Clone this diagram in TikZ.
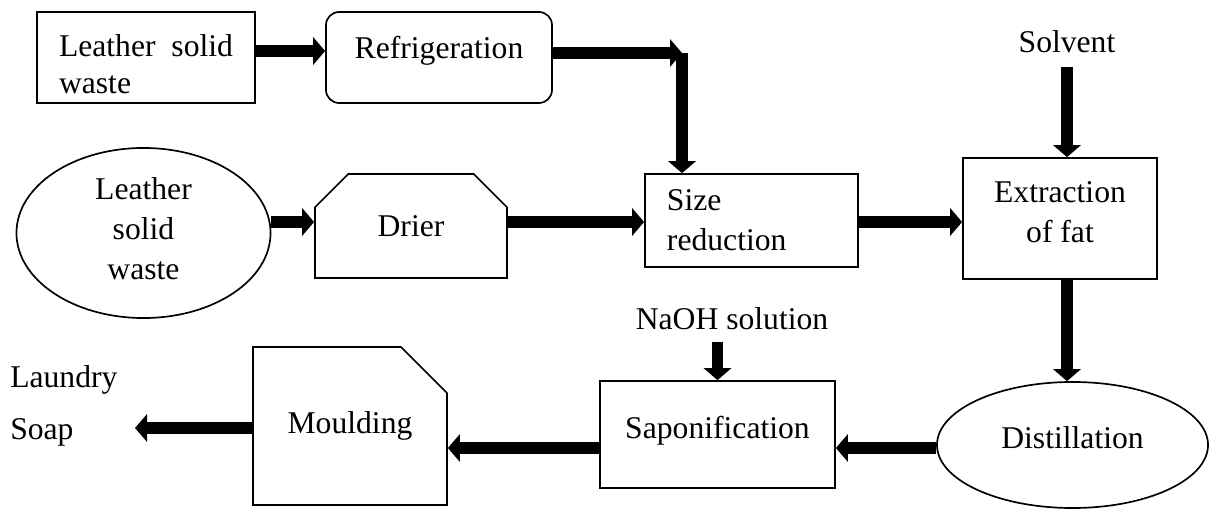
\documentclass[tikz,border=0pt]{standalone}
\usepackage{fontspec}
\setmainfont{Liberation Serif}
\usepackage{tikz}
\usetikzlibrary{shapes.geometric, shapes.misc, arrows.meta}

\tikzset{
  proc/.style={draw, line width=1.2pt, font=\fontsize{22.5}{28.5}\selectfont},
  lbl/.style={font=\fontsize{22.5}{28.5}\selectfont},
  flow/.style={line width=8pt, -{Triangle[length=0.3cm, width=0.68cm]}}
}

\begin{document}
\begin{tikzpicture}[x=0.025cm, y=-0.025cm]
  \useasboundingbox (0,0) rectangle (1210,510);
  % rows the thick arrows run along
  \coordinate (toprow) at (0,51);
  \coordinate (bend) at (682,53);
  \coordinate (midrow) at (0,222);
  \coordinate (lowrow) at (0,448);
  \coordinate (soap) at (135,428);
  % top row: waste box and refrigeration
  \node[proc, rectangle, minimum width=5.45cm, minimum height=2.275cm, align=left,
        font=\fontsize{22.5}{26.3}\selectfont] (waste) at (146,57.5) {\rule{0pt}{24.5pt}Leather\ \ solid\\waste};
  \node[proc, rounded corners=0.33cm, minimum width=5.65cm, minimum height=2.275cm, text depth=15pt] (fridge) at (439,57.5) {Refrigeration};
  % middle row
  \node[proc, ellipse, inner sep=0pt, minimum width=6.35cm, minimum height=4.25cm, align=center] (leaf) at (143.5,233) {Leather\\solid\\waste\rule[-6pt]{0pt}{6pt}};
  \node[proc, chamfered rectangle, chamfered rectangle corners={north west, north east},
        chamfered rectangle xsep=0.45cm, chamfered rectangle ysep=0.45cm,
        minimum width=4.8cm, minimum height=2.6cm] (drier) at (411,226) {Drier};
  \node[proc, rectangle, minimum height=2.325cm, text width=4.225cm, inner xsep=0.55cm, align=left] (size) at (751.5,220.5) {Size\\reduction};
  \node[proc, rectangle, minimum width=4.85cm, minimum height=3.025cm, align=center] (extract) at (1060,218.5) {Extraction\\of fat\rule[-9pt]{0pt}{9pt}};
  \node[lbl] (solvent) at (1067,42) {Solvent};
  % bottom row
  \node[proc, ellipse, inner sep=0pt, minimum width=6.775cm, minimum height=3.15cm, text depth=10pt] (dist) at (1072.5,445) {Distillation};
  \node[proc, rectangle, minimum width=5.875cm, minimum height=2.675cm, text depth=10pt] (sapon) at (717.5,434.5) {Saponification};
  \node[lbl] (naoh) at (732,319) {NaOH solution};
  \node[proc, chamfered rectangle, chamfered rectangle corners={north east},
        chamfered rectangle xsep=0.675cm, chamfered rectangle ysep=0.675cm,
        minimum width=4.85cm, minimum height=3.95cm] (mould) at (350,426) {Moulding};
  \node[lbl, anchor=west, align=left, inner sep=0pt] (laundry) at (10,406) {Laundry\\[9pt]Soap};
  % thick flow arrows
  \draw[flow] (waste.east |- toprow) -- (fridge.west |- toprow);
  \draw[flow] (fridge.east |- bend) -- (bend);
  \draw[flow] (bend) -- (bend |- size.north);
  \draw[flow] (leaf.east |- midrow) -- (drier.west |- midrow);
  \draw[flow] (drier.east |- midrow) -- (size.west |- midrow);
  \draw[flow] (size.east |- midrow) -- (extract.west |- midrow);
  \draw[flow, shorten <=6pt] (solvent.south) -- (solvent.south |- extract.north);
  \draw[flow] (solvent.south |- extract.south) -- (solvent.south |- dist.north);
  \draw[flow] (dist.west |- lowrow) -- (sapon.east |- lowrow);
  \draw[flow, shorten <=5pt] (sapon.north |- naoh.south) -- (sapon.north);
  \draw[flow] (sapon.west |- lowrow) -- (mould.east |- lowrow);
  \draw[flow] (mould.west |- soap) -- (soap);
\end{tikzpicture}
\end{document}
